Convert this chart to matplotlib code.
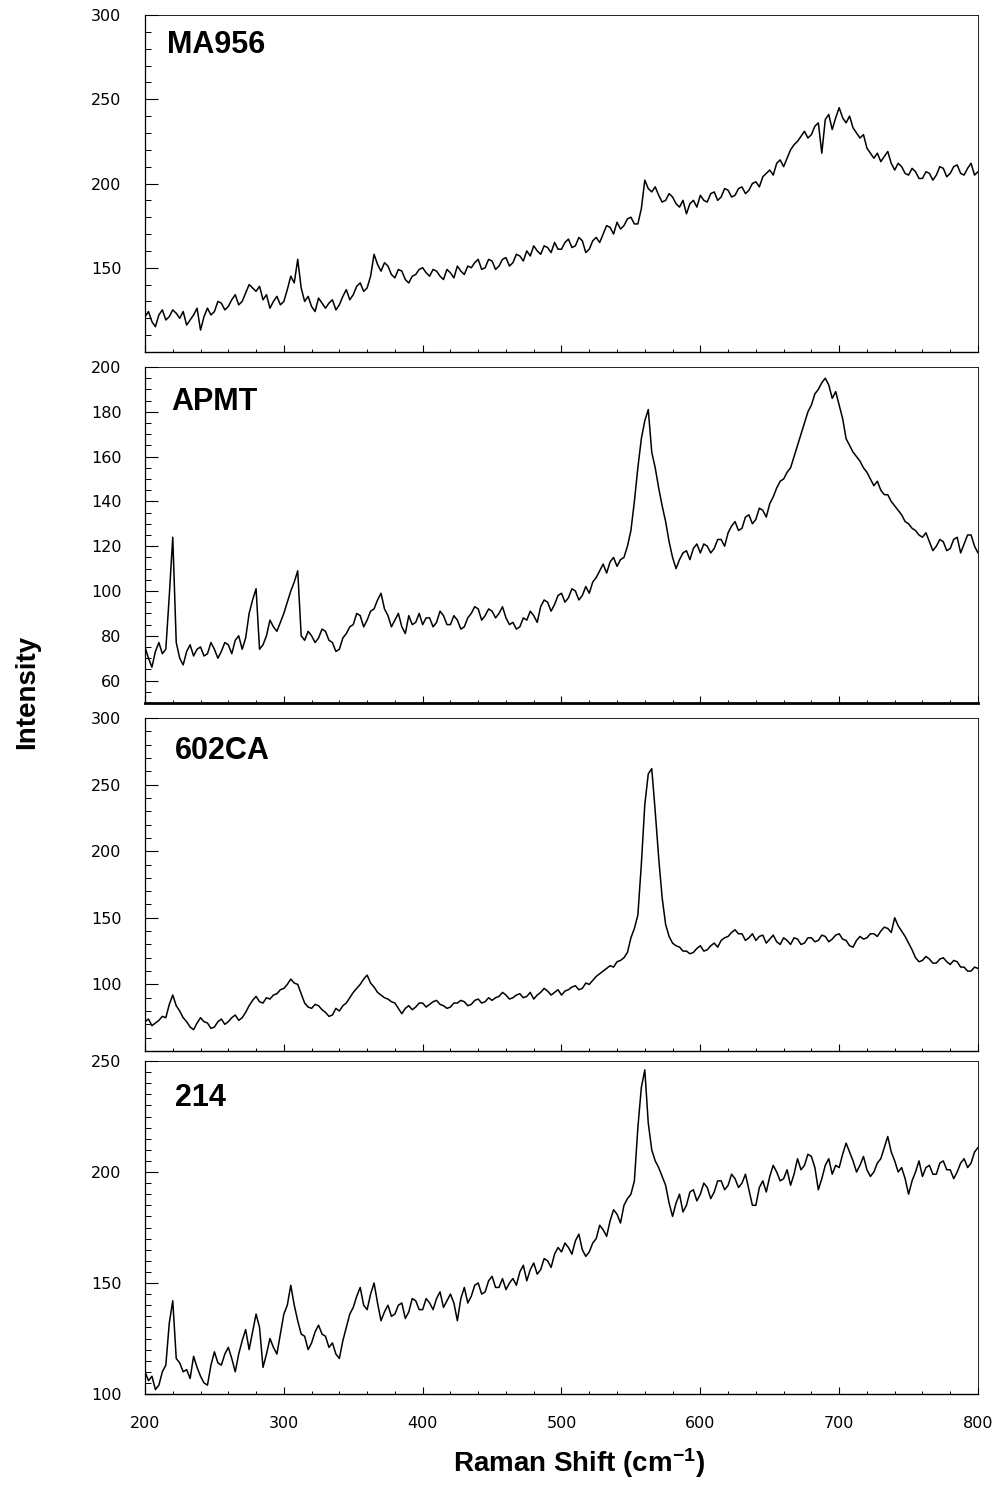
import matplotlib
matplotlib.use("Agg")
import matplotlib.pyplot as plt
from matplotlib.ticker import MultipleLocator

plt.rcParams['font.family'] = ['Liberation Sans', 'DejaVu Sans']
plt.rcParams['mathtext.fontset'] = 'custom'
plt.rcParams['mathtext.rm'] = 'Liberation Sans:bold'
plt.rcParams['mathtext.bf'] = 'Liberation Sans:bold'
plt.rcParams['mathtext.default'] = 'bf'

# Raman shift axis (cm^-1), 2.5 cm^-1 steps from 200 to 800
shift = [200 + 2.5 * k for k in range(241)]

# each row covers 25 cm^-1 (10 points)
ma956 = [121, 124, 118, 115, 122, 125, 119, 121, 125, 123,
         120, 124, 116, 119, 122, 126, 113, 121, 126, 122,
         124, 130, 129, 125, 127, 131, 134, 128, 130, 135,
         140, 138, 136, 139, 131, 134, 126, 130, 133, 128,
         130, 137, 145, 141, 155, 138, 130, 133, 127, 124,
         132, 129, 126, 129, 131, 125, 128, 133, 137, 131,
         134, 139, 141, 136, 138, 145, 158, 152, 148, 153,
         151, 146, 144, 149, 148, 143, 141, 145, 146, 149,
         150, 147, 145, 149, 148, 145, 143, 149, 147, 144,
         151, 148, 146, 151, 150, 153, 155, 149, 150, 155,
         154, 149, 151, 155, 156, 151, 153, 158, 157, 154,
         160, 157, 163, 160, 158, 163, 162, 159, 165, 161,
         161, 165, 167, 162, 163, 168, 166, 159, 161, 166,
         168, 165, 170, 175, 174, 170, 177, 173, 175, 179,
         180, 176, 176, 185, 202, 197, 195, 198, 193, 189,
         190, 194, 192, 188, 186, 190, 182, 188, 190, 186,
         193, 190, 189, 194, 195, 190, 192, 197, 196, 192,
         193, 197, 198, 194, 196, 200, 201, 198, 204, 206,
         208, 205, 212, 214, 210, 215, 220, 223, 225, 228,
         231, 227, 229, 234, 236, 218, 238, 241, 232, 239,
         245, 239, 236, 240, 233, 230, 227, 229, 221, 218,
         215, 218, 213, 216, 219, 212, 208, 212, 210, 206,
         205, 209, 207, 203, 203, 207, 206, 202, 205, 210,
         209, 204, 206, 210, 211, 206, 205, 209, 212, 205,
         207]

apmt = [75, 70, 66, 73, 77, 72, 74, 98, 124, 77,
        70, 67, 73, 76, 71, 74, 75, 71, 72, 77,
        74, 70, 73, 77, 76, 72, 78, 80, 74, 79,
        90, 96, 101, 74, 76, 80, 87, 84, 82, 86,
        90, 95, 100, 104, 109, 80, 78, 82, 80, 77,
        79, 83, 82, 78, 77, 73, 74, 79, 81, 84,
        85, 90, 89, 84, 87, 91, 92, 96, 99, 92,
        89, 84, 87, 90, 84, 81, 89, 85, 86, 90,
        85, 88, 88, 84, 86, 91, 89, 85, 85, 89,
        87, 83, 84, 88, 90, 93, 92, 87, 89, 92,
        91, 88, 90, 93, 88, 85, 86, 83, 84, 88,
        87, 91, 89, 86, 93, 96, 95, 91, 94, 98,
        99, 95, 97, 101, 100, 96, 98, 102, 99, 104,
        106, 109, 112, 108, 113, 115, 111, 114, 115, 120,
        127, 140, 155, 168, 176, 181, 162, 155, 146, 138,
        131, 122, 115, 110, 114, 117, 118, 114, 119, 121,
        117, 121, 120, 117, 119, 123, 123, 120, 126, 129,
        131, 127, 128, 133, 134, 130, 132, 137, 136, 133,
        139, 142, 146, 149, 150, 153, 155, 160, 165, 170,
        175, 180, 183, 188, 190, 193, 195, 192, 186, 189,
        183, 177, 168, 165, 162, 160, 158, 155, 153, 150,
        147, 149, 145, 143, 143, 140, 138, 136, 134, 131,
        130, 128, 127, 125, 124, 126, 122, 118, 120, 123,
        122, 118, 119, 123, 124, 117, 121, 125, 125, 120,
        117]

ca602 = [72, 74, 69, 71, 73, 76, 75, 85, 92, 84,
         80, 75, 72, 68, 66, 71, 75, 72, 71, 67,
         68, 72, 74, 70, 72, 75, 77, 73, 75, 79,
         84, 88, 91, 87, 86, 90, 89, 92, 93, 96,
         97, 100, 104, 101, 100, 93, 86, 83, 82, 85,
         84, 81, 79, 76, 77, 82, 80, 84, 86, 90,
         94, 97, 100, 104, 107, 101, 98, 94, 92, 90,
         89, 87, 86, 82, 78, 82, 84, 81, 83, 86,
         86, 83, 85, 87, 88, 85, 84, 82, 83, 86,
         86, 88, 87, 84, 85, 88, 89, 86, 87, 90,
         88, 90, 91, 94, 92, 89, 90, 92, 93, 90,
         91, 94, 89, 92, 94, 97, 95, 92, 94, 96,
         92, 95, 96, 98, 99, 96, 97, 101, 100, 103,
         106, 108, 110, 112, 114, 113, 117, 118, 120, 124,
         135, 142, 152, 190, 235, 258, 262, 230, 195, 165,
         145, 136, 131, 129, 128, 125, 125, 123, 124, 127,
         129, 125, 126, 129, 131, 128, 133, 135, 136, 139,
         141, 138, 138, 133, 135, 138, 133, 136, 137, 131,
         134, 137, 132, 130, 135, 133, 130, 135, 134, 130,
         131, 135, 135, 132, 133, 137, 136, 132, 134, 137,
         138, 134, 133, 129, 128, 133, 136, 134, 135, 138,
         138, 136, 140, 143, 142, 139, 150, 144, 140, 136,
         131, 126, 120, 117, 118, 121, 119, 116, 116, 119,
         120, 117, 115, 118, 117, 113, 113, 110, 110, 113,
         112]

a214 = [110, 106, 108, 102, 104, 110, 113, 132, 142, 116,
        114, 110, 111, 107, 117, 112, 108, 105, 104, 113,
        119, 114, 113, 118, 121, 116, 110, 118, 124, 129,
        120, 128, 136, 130, 112, 118, 125, 121, 118, 127,
        136, 140, 149, 140, 133, 127, 126, 120, 123, 128,
        131, 127, 126, 121, 123, 118, 116, 124, 130, 136,
        139, 144, 148, 140, 138, 145, 150, 141, 133, 137,
        140, 135, 136, 140, 141, 134, 137, 143, 142, 138,
        138, 143, 141, 138, 143, 146, 139, 142, 145, 141,
        133, 143, 148, 141, 144, 149, 150, 145, 146, 151,
        153, 148, 148, 152, 147, 150, 152, 149, 155, 158,
        151, 156, 159, 154, 156, 161, 160, 157, 163, 166,
        164, 168, 166, 163, 169, 172, 165, 162, 164, 168,
        170, 176, 174, 171, 178, 183, 181, 177, 185, 188,
        190, 196, 220, 238, 246, 222, 210, 205, 202, 198,
        194, 186, 180, 186, 190, 182, 185, 191, 192, 187,
        190, 195, 193, 188, 191, 196, 196, 192, 194, 199,
        197, 193, 195, 199, 192, 185, 185, 193, 196, 191,
        198, 203, 200, 196, 197, 201, 194, 199, 206, 201,
        203, 208, 207, 202, 192, 197, 203, 206, 199, 203,
        202, 208, 213, 209, 205, 200, 203, 207, 201, 198,
        200, 204, 206, 211, 216, 209, 205, 200, 202, 197,
        190, 196, 200, 205, 198, 202, 203, 199, 199, 204,
        205, 201, 201, 197, 200, 204, 206, 202, 204, 209,
        211]

names = ["MA956", "APMT", "602CA", "214"]
series = [ma956, apmt, ca602, a214]
ylims = [(100, 300), (50, 200), (50, 300), (100, 250)]
yticks = [[150, 200, 250, 300],
          [60, 80, 100, 120, 140, 160, 180, 200],
          [100, 150, 200, 250, 300],
          [100, 150, 200, 250]]
yminor = [10, 5, 10, 5]
xticks = [200, 300, 400, 500, 600, 700, 800]

fig = plt.figure(figsize=(10.03, 14.91), dpi=100)
W, H = 1003.0, 1491.0
left_px, right_px = 145, 978
boxes = [(15, 352), (367, 703), (718, 1051), (1061, 1394)]
label_pos = [(0.026, 0.887), (0.032, 0.873), (0.036, 0.878), (0.036, 0.866)]

for i in range(4):
    top, bot = boxes[i]
    ax = fig.add_axes([left_px / W, 1 - bot / H, (right_px - left_px) / W, (bot - top) / H])
    n = min(len(shift), len(series[i]))
    ax.plot(shift[:n], series[i][:n], color='black', lw=1.1)
    ax.set_xlim(200, 800)
    ax.set_ylim(*ylims[i])
    ax.set_yticks(yticks[i])
    ax.yaxis.set_minor_locator(MultipleLocator(yminor[i]))
    ax.set_xticks(xticks)
    ax.xaxis.set_minor_locator(MultipleLocator(20))
    ax.tick_params(axis='y', which='major', direction='in', length=9, width=0.8,
                   pad=17, labelsize=11.5, right=False)
    ax.tick_params(axis='y', which='minor', direction='in', length=4.5, width=0.7, right=False)
    ax.tick_params(axis='x', which='major', direction='in', length=5, width=0.8,
                   pad=16, labelsize=11.5, top=False)
    ax.tick_params(axis='x', which='minor', direction='in', length=2.5, width=0.7, top=False)
    for lab in ax.get_yticklabels() + ax.get_xticklabels():
        lab.set_family('DejaVu Sans')
    if i < 3:
        ax.tick_params(axis='x', which='both', labelbottom=False)
    for s in ['top', 'right']:
        ax.spines[s].set_linewidth(0.6)
    ax.spines['left'].set_linewidth(0.9)
    ax.spines['bottom'].set_linewidth(2.0 if i == 1 else 1.0)
    ax.text(label_pos[i][0], label_pos[i][1], names[i], transform=ax.transAxes,
            fontsize=22, fontweight='bold', ha='left', va='baseline')

fig.text(27 / W, 1 - 692 / H, "Intensity", rotation=90, fontsize=20,
         fontweight='bold', ha='center', va='center')
fig.text(579 / W, 1 - 1472 / H, r"Raman Shift (cm$^{-1}$)", fontsize=20,
         fontweight='bold', ha='center', va='baseline')

fig.savefig("out.png", dpi=100)
